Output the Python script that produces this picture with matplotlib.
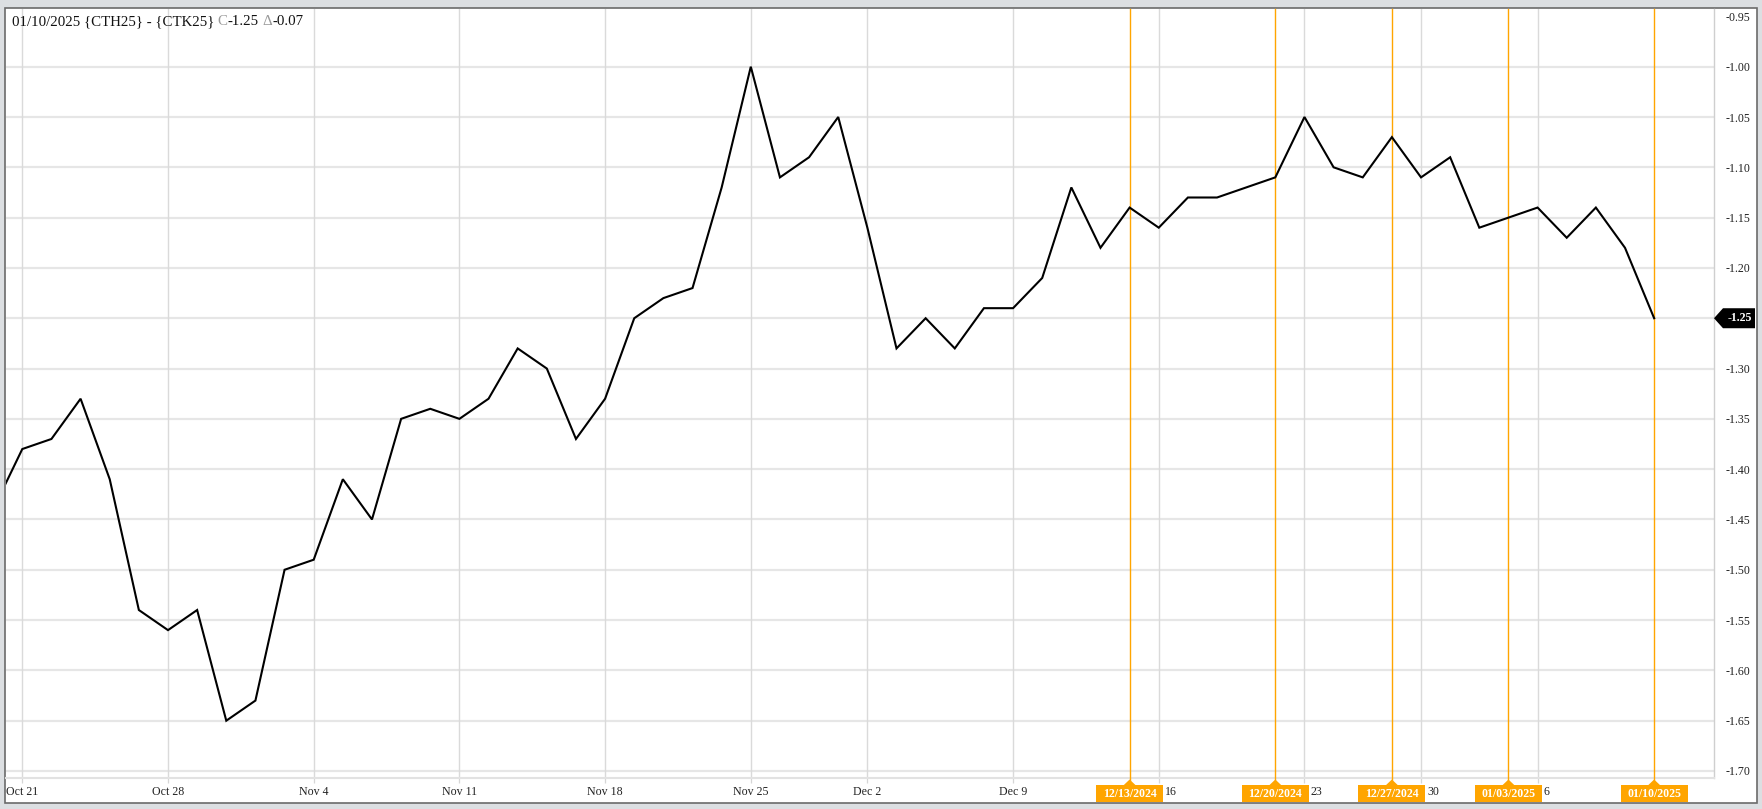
import matplotlib
matplotlib.use('Agg')
import matplotlib.pyplot as plt
from matplotlib.patches import Rectangle, Polygon
import matplotlib.transforms as mtransforms

plt.rcParams['font.family'] = ['Liberation Serif', 'DejaVu Serif']

# ---------------- data ----------------
dates = [
    "10/18/2024", "10/21/2024", "10/22/2024", "10/23/2024", "10/24/2024", "10/25/2024",
    "10/28/2024", "10/29/2024", "10/30/2024", "10/31/2024", "11/01/2024",
    "11/04/2024", "11/05/2024", "11/06/2024", "11/07/2024", "11/08/2024",
    "11/11/2024", "11/12/2024", "11/13/2024", "11/14/2024", "11/15/2024",
    "11/18/2024", "11/19/2024", "11/20/2024", "11/21/2024", "11/22/2024",
    "11/25/2024", "11/26/2024", "11/27/2024", "11/29/2024",
    "12/02/2024", "12/03/2024", "12/04/2024", "12/05/2024", "12/06/2024",
    "12/09/2024", "12/10/2024", "12/11/2024", "12/12/2024", "12/13/2024",
    "12/16/2024", "12/17/2024", "12/18/2024", "12/19/2024", "12/20/2024",
    "12/23/2024", "12/24/2024", "12/26/2024", "12/27/2024",
    "12/30/2024", "12/31/2024", "01/02/2025", "01/03/2025",
    "01/06/2025", "01/07/2025", "01/08/2025", "01/09/2025", "01/10/2025",
]
spread = [
    -1.44, -1.38, -1.37, -1.33, -1.41, -1.54,
    -1.56, -1.54, -1.65, -1.63, -1.50,
    -1.49, -1.41, -1.45, -1.35, -1.34,
    -1.35, -1.33, -1.28, -1.30, -1.37,
    -1.33, -1.25, -1.23, -1.22, -1.12,
    -1.00, -1.11, -1.09, -1.05,
    -1.16, -1.28, -1.25, -1.28, -1.24,
    -1.24, -1.21, -1.12, -1.18, -1.14,
    -1.16, -1.13, -1.13, -1.12, -1.11,
    -1.05, -1.10, -1.11, -1.07,
    -1.11, -1.09, -1.16, -1.15,
    -1.14, -1.17, -1.14, -1.18, -1.25,
]
tick_dates = ["10/21/2024", "10/28/2024", "11/04/2024", "11/11/2024", "11/18/2024",
              "11/25/2024", "12/02/2024", "12/09/2024", "12/16/2024", "12/23/2024",
              "12/30/2024", "01/06/2025"]
tick_labels = ["Oct 21", "Oct 28", "Nov 4", "Nov 11", "Nov 18", "Nov 25",
               "Dec 2", "Dec 9", "16", "23", "30", "6"]
shifted_labels = ["16", "23", "30", "6"]
marker_dates = ["12/13/2024", "12/20/2024", "12/27/2024", "01/03/2025", "01/10/2025"]
y_ticks = [-0.95, -1.00, -1.05, -1.10, -1.15, -1.20, -1.25, -1.30, -1.35,
           -1.40, -1.45, -1.50, -1.55, -1.60, -1.65, -1.70]
title_date = "01/10/2025"
symbol_text = "{CTH25} - {CTK25}"

# ---------------- layout ----------------
W, H = 1762, 809
def fx(px):
    return px / W
def fy(py):
    return 1 - py / H

fig = plt.figure(figsize=(W / 100, H / 100), dpi=100, facecolor='#dcdfe2')
panel = Rectangle((fx(4.5), fy(803)), fx(1757) - fx(4.5), fy(8.5) - fy(803),
                  transform=fig.transFigure, facecolor='white', edgecolor='#6b6b6b',
                  lw=1.2, zorder=-5)
fig.patches.append(panel)

ax = fig.add_axes([fx(6), fy(778), fx(1714) - fx(6), fy(9) - fy(778)])
ax.set_zorder(2)
ax.set_facecolor('white')
x = list(range(len(dates)))
ax.set_xlim(0.4406, 59.054)
ymin, ymax = -1.70696, -0.94265
ax.set_ylim(ymin, ymax)

for s in ['top', 'left']:
    ax.spines[s].set_visible(False)
ax.spines['right'].set_color('#cfcfcf')
ax.spines['right'].set_linewidth(1.0)
ax.spines['bottom'].set_color('#e2e2e2')
ax.spines['bottom'].set_linewidth(1.5)

# grid
for v in y_ticks:
    if v <= -1.0 + 1e-9:
        ax.axhline(v, color='#e6e6e6', lw=1.6, zorder=1)
tick_pos = [dates.index(d) for d in tick_dates]
for p in tick_pos:
    ax.axvline(p, color='#dadada', lw=1.0, zorder=1)

# ticks
ax.yaxis.tick_right()
ax.set_yticks(y_ticks)
ax.set_yticklabels([f"{v:.2f}" for v in y_ticks])
ax.tick_params(axis='y', length=0, pad=8.5, labelsize=8.6, labelcolor='#222222')
ax.set_xticks(tick_pos)
ax.set_xticklabels([l if l not in shifted_labels else '' for l in tick_labels])
ax.tick_params(axis='x', length=3.8, width=0.9, color='#d6d6d6', pad=2.2,
               labelsize=8.6, labelcolor='#222222')

# labels pushed right of orange date boxes
xb = mtransforms.blended_transform_factory(ax.transData, fig.transFigure)
px_per_idx = 29.14
for p, l in zip(tick_pos, tick_labels):
    if l in shifted_labels:
        ax.text(p + 6 / px_per_idx, fy(792), l, transform=xb, ha='left', va='center',
                fontsize=8.6, color='#222222', clip_on=False)

# main line
ax.plot(x, spread, color='black', lw=1.5, zorder=4, solid_joinstyle='miter')

# orange date markers
orange = '#FFA500'
half_w = 33.5 / px_per_idx
for d in marker_dates:
    p = dates.index(d)
    ax.axvline(p, ymin=-(781 - 778) / 769, ymax=1, color=orange, lw=1.0, zorder=3,
               clip_on=False)
    r = Rectangle((p - half_w, fy(802)), 2 * half_w, fy(785) - fy(802), transform=xb,
                  facecolor=orange, edgecolor='none', zorder=5, clip_on=False)
    ax.add_patch(r)
    tri = Polygon([(p - 6 / px_per_idx, fy(785.2)), (p, fy(779.5)),
                   (p + 6 / px_per_idx, fy(785.2))], closed=True, transform=xb,
                  facecolor=orange, edgecolor='none', zorder=5, clip_on=False)
    ax.add_patch(tri)
    ax.text(p, fy(793.8), d, transform=xb, ha='center', va='center', color='white',
            fontsize=8.6, fontweight='bold', zorder=6, clip_on=False)

# last value tag
last = spread[-1]
yb = mtransforms.blended_transform_factory(fig.transFigure, ax.transData)
dy = 10 * (ymax - ymin) / 769
tag = Polygon([(fx(1714), last), (fx(1723), last + dy), (fx(1755), last + dy),
               (fx(1755), last - dy), (fx(1723), last - dy)], closed=True,
              transform=yb, facecolor='black', edgecolor='none', zorder=6, clip_on=False)
ax.add_patch(tag)
ax.text(fx(1739.5), last, f"{last:.2f}", transform=yb, ha='center', va='center',
        color='white', fontsize=8.6, fontweight='bold', zorder=7, clip_on=False)

# title with coloured parts
change = spread[-1] - spread[-2]
pieces = [
    (f"{title_date} {symbol_text}", '#111111', 3.7),
    ("C", '#9a9a9a', 0.0),
    (f"{spread[-1]:.2f}", '#111111', 3.7),
    ("Δ", '#9a9a9a', 0.0),
    (f"{change:.2f}", '#111111', 0.0),
]
renderer = fig.canvas.get_renderer()
cur = 11.5
for txt, col, gap in pieces:
    t = fig.text(fx(cur), fy(25), txt, ha='left', va='baseline', fontsize=10.7,
                 color=col, zorder=10)
    bb = t.get_window_extent(renderer=renderer)
    cur += bb.width + gap

fig.savefig('out.png', dpi=100, facecolor=fig.get_facecolor())
